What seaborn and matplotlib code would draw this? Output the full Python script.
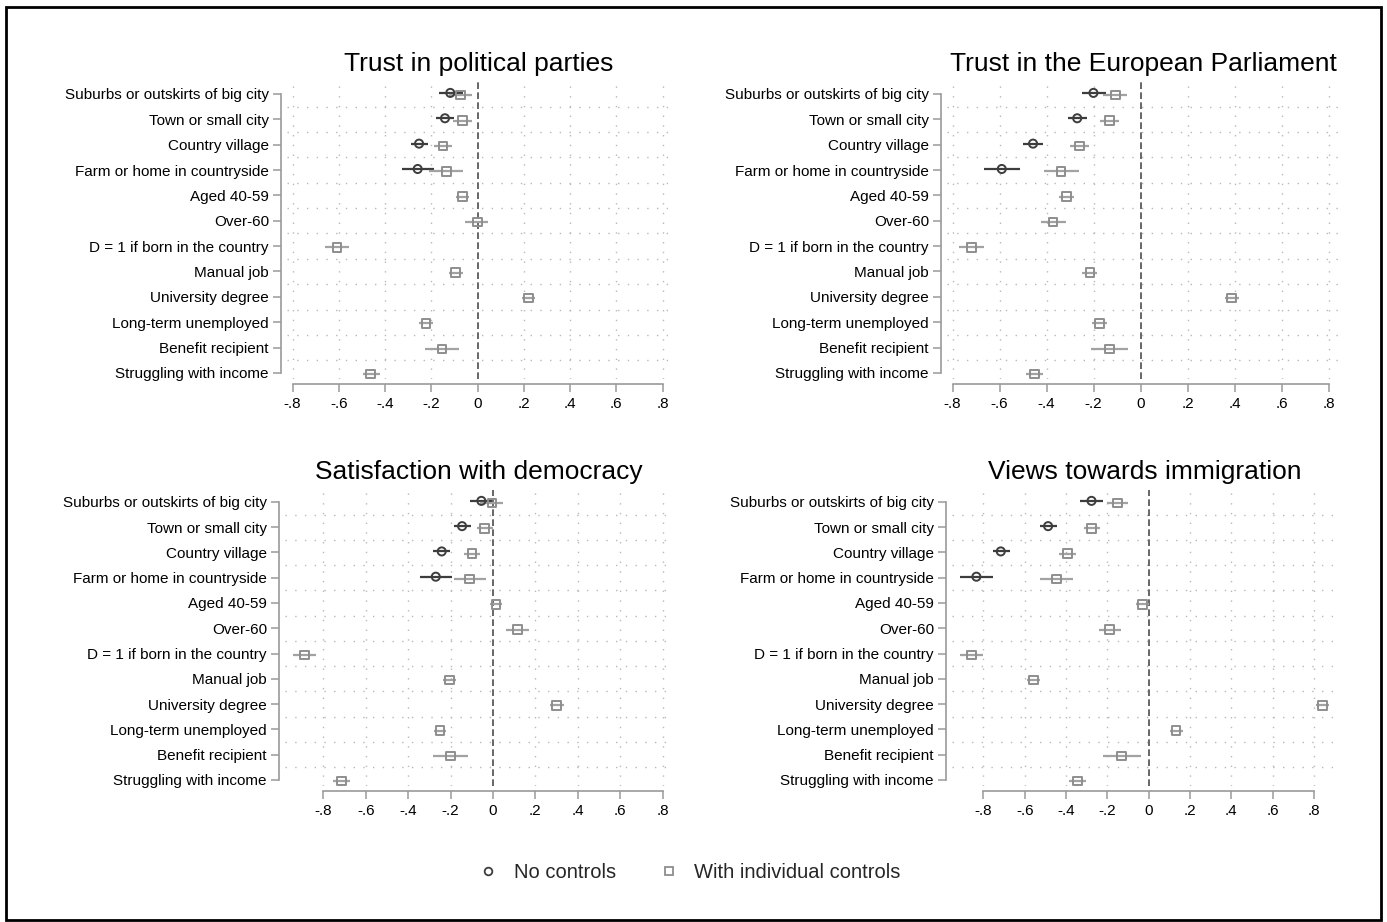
import numpy as np
import pandas as pd
import matplotlib
matplotlib.use("Agg")
import matplotlib.pyplot as plt
import seaborn as sns
from matplotlib.lines import Line2D
from matplotlib.patches import Rectangle

sns.set_theme(style="white")
plt.rcParams['font.family'] = ['Liberation Sans', 'DejaVu Sans']

# row labels (top to bottom)
labels = ['Suburbs or outskirts of big city', 'Town or small city', 'Country village',
          'Farm or home in countryside', 'Aged 40-59', 'Over-60',
          'D = 1 if born in the country', 'Manual job', 'University degree',
          'Long-term unemployed', 'Benefit recipient', 'Struggling with income']
xticks = [-0.8, -0.6, -0.4, -0.2, 0, 0.2, 0.4, 0.6, 0.8]
xticklabels = ['-.8', '-.6', '-.4', '-.2', '0', '.2', '.4', '.6', '.8']
titles = ['Trust in political parties', 'Trust in the European Parliament',
          'Satisfaction with democracy', 'Views towards immigration']

# Trust in political parties
parties_nc = [-0.118, -0.141, -0.253, -0.259]
parties_nc_lo = [-0.165, -0.180, -0.290, -0.328]
parties_nc_hi = [-0.065, -0.100, -0.216, -0.188]
parties_ic = [-0.075, -0.065, -0.150, -0.135, -0.065, 0.000, -0.607, -0.095, 0.220, -0.223, -0.153, -0.462]
parties_ic_lo = [-0.125, -0.105, -0.187, -0.209, -0.095, -0.053, -0.660, -0.124, 0.191, -0.252, -0.226, -0.496]
parties_ic_hi = [-0.023, -0.023, -0.111, -0.065, -0.036, 0.047, -0.554, -0.065, 0.250, -0.193, -0.080, -0.424]

# Trust in the European Parliament
ep_nc = [-0.201, -0.270, -0.458, -0.591]
ep_nc_lo = [-0.251, -0.311, -0.499, -0.665]
ep_nc_hi = [-0.149, -0.228, -0.417, -0.513]
ep_ic = [-0.106, -0.133, -0.260, -0.339, -0.316, -0.373, -0.720, -0.216, 0.387, -0.176, -0.133, -0.452]
ep_ic_lo = [-0.159, -0.172, -0.299, -0.411, -0.348, -0.424, -0.774, -0.248, 0.357, -0.207, -0.213, -0.489]
ep_ic_hi = [-0.057, -0.094, -0.218, -0.264, -0.284, -0.319, -0.667, -0.184, 0.418, -0.145, -0.052, -0.414]

# Satisfaction with democracy
dem_nc = [-0.055, -0.146, -0.242, -0.270]
dem_nc_lo = [-0.107, -0.186, -0.283, -0.343]
dem_nc_hi = [-0.003, -0.105, -0.201, -0.193]
dem_ic = [-0.005, -0.039, -0.099, -0.110, 0.014, 0.115, -0.890, -0.204, 0.300, -0.250, -0.200, -0.715]
dem_ic_lo = [-0.060, -0.077, -0.138, -0.186, -0.013, 0.063, -0.945, -0.237, 0.267, -0.280, -0.285, -0.755]
dem_ic_hi = [0.046, -0.002, -0.060, -0.033, 0.044, 0.170, -0.836, -0.175, 0.333, -0.220, -0.118, -0.675]

# Views towards immigration
imm_nc = [-0.277, -0.487, -0.716, -0.834]
imm_nc_lo = [-0.334, -0.527, -0.756, -0.915]
imm_nc_hi = [-0.221, -0.444, -0.673, -0.753]
imm_ic = [-0.152, -0.276, -0.394, -0.447, -0.031, -0.189, -0.858, -0.558, 0.842, 0.132, -0.131, -0.345]
imm_ic_lo = [-0.202, -0.315, -0.434, -0.524, -0.061, -0.242, -0.915, -0.590, 0.810, 0.102, -0.223, -0.385]
imm_ic_hi = [-0.098, -0.234, -0.352, -0.366, 0.002, -0.134, -0.802, -0.526, 0.874, 0.165, -0.037, -0.303]

dark = '#3d3d3d'
light = '#8e8e8e'
light_ci = '#a2a2a2'
axcol = '#9a9a9a'
gridcol = '#b8b8b8'

W, H = 1387, 922
fig = plt.figure(figsize=(W / 100, H / 100), dpi=100)

# pixel boxes (left, right, top, bottom) and x range of each plot region
boxes = [(287, 670, 82, 379), (947, 1340, 82, 379), (285, 672, 490, 786), (952, 1337, 490, 786)]
xlims = [(-0.824, 0.832), (-0.824, 0.848), (-0.981, 0.844), (-0.952, 0.911)]
series = [
    (parties_nc, parties_nc_lo, parties_nc_hi, parties_ic, parties_ic_lo, parties_ic_hi),
    (ep_nc, ep_nc_lo, ep_nc_hi, ep_ic, ep_ic_lo, ep_ic_hi),
    (dem_nc, dem_nc_lo, dem_nc_hi, dem_ic, dem_ic_lo, dem_ic_hi),
    (imm_nc, imm_nc_lo, imm_nc_hi, imm_ic, imm_ic_lo, imm_ic_hi),
]

rows = np.arange(1, len(labels) + 1)

for (l, r, t, b), xl, title, (nc, nc_lo, nc_hi, ic, ic_lo, ic_hi) in zip(boxes, xlims, titles, series):
    ax = fig.add_axes([l / W, 1 - b / H, (r - l) / W, (b - t) / H])

    df_nc = pd.DataFrame({'est': nc, 'lo': nc_lo, 'hi': nc_hi, 'y': rows[:len(nc)] - 0.04})
    df_ic = pd.DataFrame({'est': ic, 'lo': ic_lo, 'hi': ic_hi, 'y': rows[:len(ic)] + 0.05})

    # grid: dotted at x ticks, and between rows
    for x in xticks:
        if x != 0:
            ax.axvline(x, color=gridcol, lw=1.0, ls=(0, (1, 6)), zorder=0)
    for y in rows[:-1] + 0.5:
        ax.axhline(y, color=gridcol, lw=1.0, ls=(0, (1, 6)), zorder=0)
    ax.axvline(0, color='#4d4d4d', lw=1.2, ls=(0, (4, 2)), zorder=1)

    # confidence intervals
    ax.hlines(df_nc['y'], df_nc['lo'], df_nc['hi'], color=dark, lw=1.6, zorder=2)
    ax.hlines(df_ic['y'], df_ic['lo'], df_ic['hi'], color=light_ci, lw=1.6, zorder=3)

    sns.scatterplot(data=df_nc, x='est', y='y', marker='o', s=34, color=dark,
                    facecolor='none', edgecolor=dark, linewidth=1.4, ax=ax, zorder=4)
    sns.scatterplot(data=df_ic, x='est', y='y', marker='s', s=38, color=light,
                    facecolor='none', edgecolor=light, linewidth=1.4, ax=ax, zorder=5)

    ax.set_xlim(*xl)
    ax.set_ylim(12.24, 0.53)
    ax.set_xticks(xticks)
    ax.set_xticklabels(xticklabels)
    ax.set_yticks(rows)
    ax.set_yticklabels(labels)
    ax.set_xlabel('')
    ax.set_ylabel('')

    for s in ['top', 'right']:
        ax.spines[s].set_visible(False)
    ax.spines['left'].set_position(('outward', 4))
    ax.spines['left'].set_bounds(1, 12)
    ax.spines['bottom'].set_position(('outward', 3.6))
    ax.spines['bottom'].set_bounds(-0.8, 0.8)
    for s in ['left', 'bottom']:
        ax.spines[s].set_color(axcol)
        ax.spines[s].set_linewidth(1.2)

    ax.tick_params(axis='both', direction='out', length=5.5, width=1.1, color=axcol,
                   labelsize=11, labelcolor='black', left=True, bottom=True)
    ax.tick_params(axis='y', pad=3.5)
    ax.tick_params(axis='x', pad=4)
    ax.set_title(title, fontsize=19, pad=8, color='black')

# legend
handles = [
    Line2D([], [], marker='o', ls='none', mfc='none', mec=dark, ms=5.5, mew=1.3, label='No controls'),
    Line2D([], [], marker='s', ls='none', mfc='none', mec=light, ms=5.5, mew=1.3, label='With individual controls'),
]
fig.legend(handles=handles, loc='center', bbox_to_anchor=(689.5 / W, 1 - 873 / H), ncol=2,
           frameon=False, fontsize=14.5, handlelength=1.0, handletextpad=0.75, columnspacing=2.15)

# outer frame
fig.patches.append(Rectangle((6 / W, 1 - 920 / H), (1381 - 6) / W, (920 - 7) / H,
                             transform=fig.transFigure, fill=False, edgecolor='black', lw=2))

fig.savefig('out.png', dpi=100)
